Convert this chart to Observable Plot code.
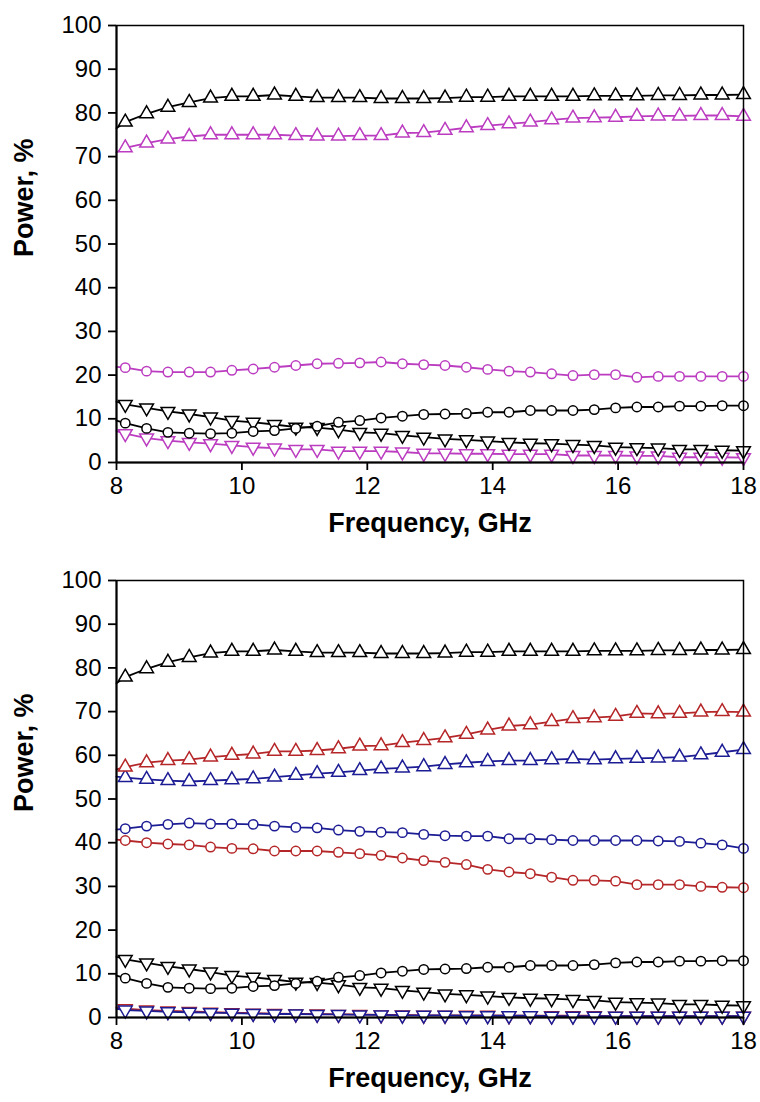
<!DOCTYPE html>
<html>
<head>
<meta charset="utf-8">
<script src="https://cdn.jsdelivr.net/npm/d3@7"></script>
<script src="https://cdn.jsdelivr.net/npm/@observablehq/plot@0.6"></script>
<style>
  html, body { margin: 0; padding: 0; background: #fff; }
  #chart svg { display: block; }
</style>
</head>
<body>
<div id="chart"></div>
<script>
// Frequency samples (GHz)
const freq = [8.00, 8.14, 8.48, 8.82, 9.16, 9.50, 9.84, 10.18, 10.52, 10.86, 11.20, 11.54, 11.88, 12.22, 12.56, 12.90,
  13.24, 13.58, 13.92, 14.26, 14.60, 14.94, 15.28, 15.62, 15.96, 16.30, 16.64, 16.98, 17.32, 17.66, 18.00];

const xTicks = [8, 10, 12, 14, 16, 18];
const yTicks = [0, 10, 20, 30, 40, 50, 60, 70, 80, 90, 100];
const xLabel = "Frequency, GHz";
const yLabel = "Power, %";

// Black reference series (both panels)
const blackUp = [76.5, 77.9, 79.8, 81.3, 82.4, 83.4, 83.8, 83.8, 84.1, 83.8, 83.5, 83.5, 83.5, 83.3, 83.3, 83.3,
  83.4, 83.6, 83.6, 83.8, 83.8, 83.8, 83.8, 83.9, 83.9, 83.9, 84.0, 84.0, 84.1, 84.1, 84.2];
const blackCircle = [9.6, 9.0, 7.8, 6.9, 6.7, 6.6, 6.7, 7.1, 7.3, 7.8, 8.3, 9.2, 9.6, 10.2, 10.6, 11.0,
  11.1, 11.2, 11.5, 11.5, 11.9, 11.9, 11.9, 12.1, 12.5, 12.7, 12.7, 12.9, 12.9, 13.0, 13.0];
const blackDown = [13.9, 13.3, 12.5, 11.7, 11.1, 10.4, 9.6, 9.2, 8.7, 8.1, 8.0, 7.5, 6.9, 6.7, 6.2, 5.8,
  5.4, 5.2, 4.9, 4.6, 4.4, 4.3, 4.1, 3.9, 3.5, 3.4, 3.3, 3.0, 3.0, 2.8, 2.7];

// Top panel (magenta)
const magUp = [71.0, 72.0, 73.1, 74.0, 74.6, 75.0, 75.0, 75.0, 75.0, 74.8, 74.7, 74.7, 74.8, 74.8, 75.4, 75.5,
  76.0, 76.6, 77.1, 77.5, 77.9, 78.4, 78.8, 78.9, 79.0, 79.2, 79.3, 79.3, 79.4, 79.4, 79.2];
const magCircle = [21.9, 21.7, 20.9, 20.7, 20.7, 20.7, 21.1, 21.4, 21.8, 22.2, 22.6, 22.7, 22.8, 23.0, 22.6, 22.4,
  22.2, 21.8, 21.3, 20.9, 20.7, 20.3, 19.9, 20.1, 20.1, 19.5, 19.7, 19.7, 19.7, 19.7, 19.7];
const magDown = [7.2, 6.6, 5.6, 5.0, 4.6, 4.3, 3.9, 3.5, 3.3, 3.0, 3.0, 2.6, 2.6, 2.6, 2.4, 2.1,
  2.1, 2.0, 2.0, 1.9, 1.9, 1.9, 1.6, 1.6, 1.6, 1.5, 1.5, 1.2, 1.2, 1.2, 1.1];

// Bottom panel (red and blue)
const redUp = [56.8, 57.3, 58.3, 58.8, 59.0, 59.6, 60.0, 60.3, 60.9, 60.9, 61.1, 61.5, 62.1, 62.2, 62.9, 63.4,
  64.0, 64.8, 65.8, 66.7, 67.0, 67.7, 68.4, 68.6, 68.9, 69.6, 69.5, 69.6, 69.9, 70.0, 69.9];
const blueUp = [55.1, 54.9, 54.5, 54.2, 54.0, 54.2, 54.4, 54.6, 55.0, 55.4, 55.8, 56.1, 56.5, 56.9, 57.1, 57.4,
  57.9, 58.3, 58.6, 58.8, 58.8, 59.0, 59.2, 59.0, 59.2, 59.3, 59.4, 59.6, 60.1, 60.7, 61.3];
const blueCircle = [43.0, 43.2, 43.8, 44.2, 44.5, 44.3, 44.3, 44.2, 43.8, 43.5, 43.4, 42.9, 42.6, 42.4, 42.3, 41.9,
  41.6, 41.5, 41.5, 40.9, 40.9, 40.7, 40.5, 40.5, 40.5, 40.5, 40.4, 40.3, 39.9, 39.5, 38.7];
const redCircle = [40.7, 40.5, 40.0, 39.7, 39.5, 39.0, 38.7, 38.6, 38.1, 38.1, 38.1, 37.8, 37.5, 37.1, 36.5, 35.9,
  35.5, 35.0, 33.9, 33.3, 32.9, 32.1, 31.4, 31.4, 31.2, 30.4, 30.4, 30.4, 30.0, 29.8, 29.7];
const redDown = [2.3, 2.0, 1.7, 1.5, 1.4, 1.2, 1.1, 1.0, 0.9, 0.8, 0.8, 0.7, 0.7, 0.6, 0.6, 0.5,
  0.5, 0.5, 0.5, 0.4, 0.4, 0.4, 0.4, 0.4, 0.3, 0.3, 0.3, 0.3, 0.3, 0.3, 0.3];
const blueDown = [2.0, 1.7, 1.5, 1.3, 1.2, 1.1, 1.0, 0.9, 0.8, 0.8, 0.7, 0.7, 0.6, 0.6, 0.5, 0.5,
  0.5, 0.4, 0.4, 0.4, 0.4, 0.3, 0.3, 0.3, 0.3, 0.3, 0.3, 0.3, 0.3, 0.3, 0.3];

const BLACK = "#000000", MAGENTA = "#bb3cc0", RED = "#b52628", BLUE = "#1c1c94";

// Down-pointing triangle symbol (mirror of d3.symbolTriangle)
const triangleDown = {
  draw(context, size) {
    const y = -Math.sqrt(size / (Math.sqrt(3) * 3));
    context.moveTo(0, -y * 2);
    context.lineTo(-Math.sqrt(3) * y, y);
    context.lineTo(Math.sqrt(3) * y, y);
    context.closePath();
  }
};

const topSeries = [
  {values: magDown, color: MAGENTA, symbol: triangleDown},
  {values: magCircle, color: MAGENTA, symbol: "circle"},
  {values: magUp, color: MAGENTA, symbol: "triangle"},
  {values: blackDown, color: BLACK, symbol: triangleDown},
  {values: blackCircle, color: BLACK, symbol: "circle"},
  {values: blackUp, color: BLACK, symbol: "triangle"}
];
const bottomSeries = [
  {values: redDown, color: RED, symbol: triangleDown},
  {values: blueDown, color: BLUE, symbol: triangleDown},
  {values: redCircle, color: RED, symbol: "circle"},
  {values: blueCircle, color: BLUE, symbol: "circle"},
  {values: blueUp, color: BLUE, symbol: "triangle"},
  {values: redUp, color: RED, symbol: "triangle"},
  {values: blackDown, color: BLACK, symbol: triangleDown},
  {values: blackCircle, color: BLACK, symbol: "circle"},
  {values: blackUp, color: BLACK, symbol: "triangle"}
];

function panel(series, marginTop, marginBottom, height) {
  const marks = [];
  for (const s of series) {
    const rows = freq.map((f, i) => ({f, v: s.values[i], i}));
    marks.push(Plot.line(rows, {x: "f", y: "v", stroke: s.color, strokeWidth: 1.8}));
    marks.push(Plot.dot(rows.filter(d => d.i > 0), {
      x: "f", y: "v", symbol: s.symbol, r: s.symbol === "circle" ? 4.7 : 5.1,
      fill: "white", stroke: s.color, strokeWidth: 1.5
    }));
  }
  marks.push(Plot.frame({stroke: "black", strokeWidth: 1.5}));
  marks.push(Plot.axisX({ticks: xTicks, tickSize: 8, tickPadding: 6, strokeWidth: 1.8, label: null, tickFormat: d => String(d)}));
  marks.push(Plot.axisY({ticks: yTicks, tickSize: 8, tickPadding: 7, strokeWidth: 1.8, label: null, tickFormat: d => String(d)}));
  marks.push(Plot.ruleY([0], {stroke: "black", strokeWidth: 2}));
  marks.push(Plot.ruleX([8], {stroke: "black", strokeWidth: 2}));
  marks.push(Plot.text([xLabel], {text: d => d, frameAnchor: "bottom", dy: 69, fontSize: 27, fontWeight: "bold", fill: "black"}));
  marks.push(Plot.text([yLabel], {text: d => d, frameAnchor: "left", dx: -92, dy: 13, rotate: -90, fontSize: 27, fontWeight: "bold", fill: "black"}));
  return Plot.plot({
    width: 760,
    height,
    marginTop,
    marginBottom,
    marginLeft: 116,
    marginRight: 17,
    x: {domain: [8, 18], nice: false},
    y: {domain: [0, 100], nice: false},
    style: {fontFamily: "'Liberation Sans', Arial, sans-serif", fontSize: "24px", color: "black", background: "white", overflow: "visible"},
    marks
  });
}

const root = document.getElementById("chart");
root.appendChild(panel(topSeries, 25, 89, 551));
root.appendChild(panel(bottomSeries, 29, 85, 551));
</script>
</body>
</html>
